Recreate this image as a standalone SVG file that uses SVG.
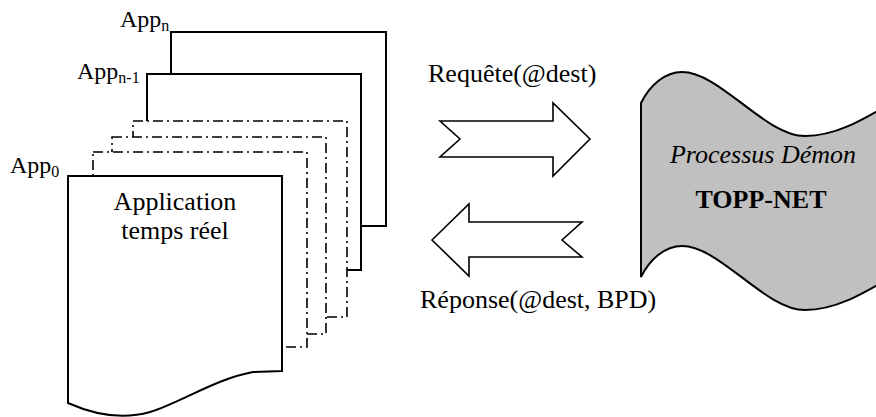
<svg xmlns="http://www.w3.org/2000/svg" width="876" height="417" viewBox="0 0 876 417">
<defs>
<style>
text{font-family:"Liberation Serif","Times New Roman",serif;fill:#000}
.t{font-size:26px}
.app{font-size:24px}
.sub{font-size:16px}
.solid{fill:#fff;stroke:#000;stroke-width:2}
.dd{fill:#fff;stroke:#000;stroke-width:1.6;stroke-dasharray:10 4 2 4}
.arr{fill:#fff;stroke:#000;stroke-width:1.6;stroke-linejoin:miter}
</style>
</defs>
<rect width="876" height="417" fill="#fff"/>
<g id="app-n">
<rect class="solid" x="171" y="32" width="215" height="194"/>
<text class="app" x="120" y="27">App<tspan class="sub" dy="3.5">n</tspan></text>
</g>
<g id="app-n-1">
<rect class="solid" x="147" y="74" width="214" height="196"/>
<text class="app" x="77" y="79">App<tspan class="sub" dy="4">n-1</tspan></text>
</g>
<g id="app-3">
<rect class="dd" x="133" y="121" width="214" height="196"/>
</g>
<g id="app-2">
<rect class="dd" x="112" y="137" width="214" height="197"/>
</g>
<g id="app-1">
<rect class="dd" x="93" y="152" width="214" height="195"/>
</g>
<g id="app-0">
<path class="solid" d="M68,176 L282,176 L282,371 L253,372 C215,379 182,402 150,412 C122,420 95,415 68,403 Z"/>
<text class="app" x="10" y="172.5">App<tspan class="sub" dy="4.5">0</tspan></text>
<text class="t" x="175" y="210" text-anchor="middle">Application</text>
<text class="t" x="175" y="239" text-anchor="middle">temps réel</text>
</g>
<g id="connectors">
<g id="req">
<polygon class="arr" points="440,121 553,121 553,103 590,139 553,176 553,157 440,157 460,139"/>
<text class="t" x="428" y="82">Requête(@dest)</text>
</g>
<g id="rep">
<polygon class="arr" points="432,240 469,204 469,222 582,222 562,240 582,257 469,257 469,276"/>
<text class="t" x="420" y="308">Réponse(@dest, BPD)</text>
</g>
</g>
<g id="daemon">
<path d="M641,103 C650,85 665,72 682,72 C720,72 765,136 805,136 C840,136 870,115 905,95 L905,269 C870,289 840,310 805,310 C765,310 720,246 682,246 C665,246 650,259 641,277 Z" fill="#c0c0c0" stroke="#000" stroke-width="2"/>
<text class="t" x="763" y="163" text-anchor="middle" font-style="italic">Processus Démon</text>
<text class="t" x="761" y="208" text-anchor="middle" font-weight="bold">TOPP-NET</text>
</g>
</svg>
